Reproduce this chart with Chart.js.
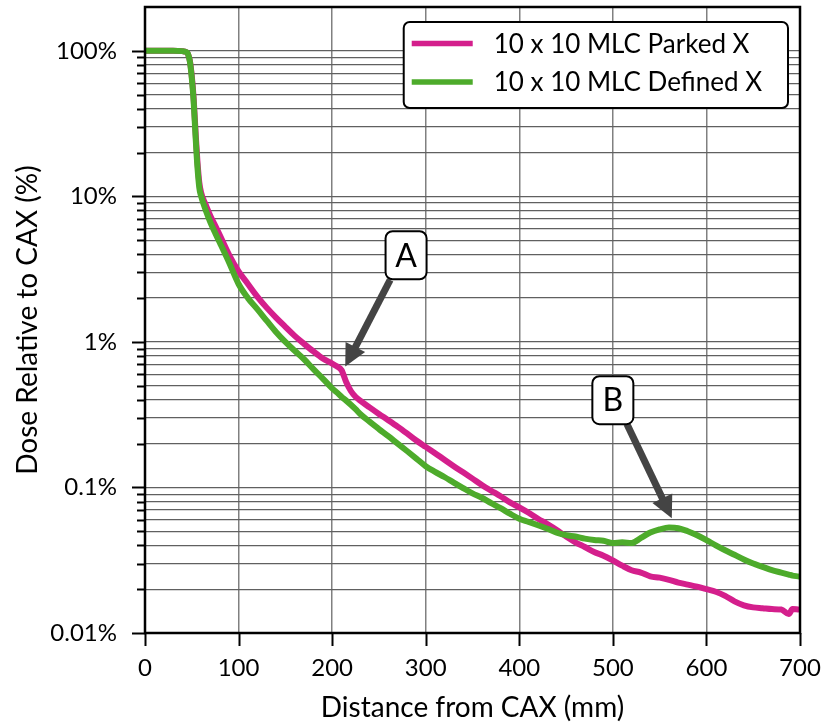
<!DOCTYPE html>
<html>
<head>
<meta charset="utf-8">
<script src="https://cdn.jsdelivr.net/npm/chart.js@4.4.0/dist/chart.umd.min.js"></script>
<style>
html,body{margin:0;padding:0;background:#fff;}
#wrap{width:826px;height:726px;}
</style>
</head>
<body>
<div id="wrap"><canvas id="myChart" width="826" height="726"></canvas></div>
<script>
// distance from CAX (mm)
var distance = [0,10,20,30,40,44,46,48,50,52,54,56,58,60,65,70,75,80,
	90,100,110,120,130,140,150,160,170,180,190,200,205,210,215,220,225,230,
	240,250,260,270,280,290,300,310,320,330,340,350,360,370,380,390,400,410,
	420,430,440,450,460,470,480,490,500,510,520,530,540,550,560,570,580,590,
	600,610,620,630,640,650,660,670,680,688,692,698];

// dose relative to CAX (%)
var parkedX = [100,100,100,100,99.5,98,95,85,67,47,28,17.5,12.5,10.6,8.7,7.3,6.3,5.4,
	3.95,3.05,2.5,2.05,1.72,1.47,1.27,1.1,0.97,0.86,0.77,0.71,0.68,0.64,0.53,0.46,0.42,0.395,
	0.355,0.32,0.29,0.262,0.235,0.21,0.19,0.172,0.155,0.14,0.127,0.115,0.104,0.095,0.087,0.079,0.073,0.067,
	0.061,0.056,0.051,0.046,0.042,0.039,0.036,0.034,0.0315,0.029,0.027,0.026,0.0245,0.024,0.0232,0.0222,0.0215,0.0208,
	0.02,0.0192,0.018,0.0165,0.0155,0.015,0.0148,0.0146,0.0145,0.0135,0.0146,0.0145];

var definedX = [100,100,100,100,99.5,98,95,84,65,45,26,16,11.5,10,8,6.6,5.6,4.8,
	3.5,2.5,2.0,1.68,1.4,1.17,1.0,0.87,0.76,0.65,0.56,0.48,0.45,0.42,0.395,0.37,0.345,0.32,
	0.283,0.252,0.225,0.2,0.178,0.158,0.14,0.128,0.118,0.108,0.099,0.091,0.085,0.078,0.072,0.066,0.061,0.058,
	0.055,0.052,0.049,0.047,0.046,0.0445,0.0435,0.043,0.0415,0.042,0.0415,0.045,0.049,0.0515,0.053,0.0525,0.05,0.047,
	0.0435,0.04,0.037,0.0345,0.032,0.03,0.0285,0.027,0.026,0.0252,0.0248,0.0245];

var seriesNames = ["10 x 10 MLC Parked X", "10 x 10 MLC Defined X"];
var seriesColors = ["#d41f8c", "#4dab2b"];
var yMajor = [0.01, 0.1, 1, 10, 100];

// all y ticks (1..9 per decade) for the grid
var yTicks = [];
yMajor.forEach(function(d){
	for (var m = 1; m <= 9; m++) {
		if (d == 100 && m > 1) break;
		yTicks.push(Number((d*m).toPrecision(3)));
	}
});

// callouts, placed in data units
var callouts = [
	{ text: "A", x: 279, y: 3.94, fromX: 262, fromY: 2.67, toX: 214, toY: 0.677 },
	{ text: "B", x: 500, y: 0.398, fromX: 515, fromY: 0.273, toX: 563, toY: 0.0615 }
];

function pts(vals){
	return distance.map(function(d, i){ return {x: d, y: vals[i]}; });
}

function roundBox(ctx, x, y, w, h, r){
	ctx.beginPath();
	ctx.moveTo(x+r, y);
	ctx.arcTo(x+w, y, x+w, y+h, r);
	ctx.arcTo(x+w, y+h, x, y+h, r);
	ctx.arcTo(x, y+h, x, y, r);
	ctx.arcTo(x, y, x+w, y, r);
	ctx.closePath();
}

// no extra padding from tick labels, the plot box is set by layout
function noPad(s){
	s.paddingTop = 0; s.paddingBottom = 0; s.paddingLeft = 0; s.paddingRight = 0;
}

var extras = {
	id: 'extras',
	afterDatasetsDraw: function(chart){
		var ctx = chart.ctx, a = chart.chartArea, xs = chart.scales.x, ys = chart.scales.y;
		ctx.save();

		// frame
		ctx.strokeStyle = "#000";
		ctx.lineWidth = 2.5;
		ctx.strokeRect(a.left, a.top, a.right - a.left, a.bottom - a.top);

		// tick marks
		ctx.lineWidth = 2;
		ys.ticks.forEach(function(t){
			var py = Math.round(ys.getPixelForValue(t.value)) + 0.5;
			var len = yMajor.indexOf(t.value) >= 0 ? 13 : 8;
			ctx.beginPath(); ctx.moveTo(a.left - len, py); ctx.lineTo(a.left, py); ctx.stroke();
		});
		xs.ticks.forEach(function(t){
			var px = Math.round(xs.getPixelForValue(t.value)) + 0.5;
			ctx.beginPath(); ctx.moveTo(px, a.bottom); ctx.lineTo(px, a.bottom + 13); ctx.stroke();
		});

		// callouts
		callouts.forEach(function(c){
			var sx = xs.getPixelForValue(c.fromX), sy = ys.getPixelForValue(c.fromY);
			var tx = xs.getPixelForValue(c.toX), ty = ys.getPixelForValue(c.toY);
			var ang = Math.atan2(ty - sy, tx - sx);
			var head = 22, half = 11;
			var bx = tx - head*Math.cos(ang), by = ty - head*Math.sin(ang);
			ctx.strokeStyle = "#444"; ctx.fillStyle = "#444";
			ctx.lineWidth = 7; ctx.lineCap = "butt";
			ctx.beginPath(); ctx.moveTo(sx, sy); ctx.lineTo(bx + 2*Math.cos(ang), by + 2*Math.sin(ang)); ctx.stroke();
			ctx.beginPath();
			ctx.moveTo(tx, ty);
			ctx.lineTo(bx + half*Math.sin(ang), by - half*Math.cos(ang));
			ctx.lineTo(bx - half*Math.sin(ang), by + half*Math.cos(ang));
			ctx.closePath(); ctx.fill();

			var cx = xs.getPixelForValue(c.x), cy = ys.getPixelForValue(c.y);
			var w = 41, h = 48;
			roundBox(ctx, cx - w/2, cy - h/2, w, h, 7);
			ctx.fillStyle = "#fff"; ctx.fill();
			ctx.strokeStyle = "#000"; ctx.lineWidth = 2; ctx.stroke();
			ctx.fillStyle = "#000";
			ctx.font = "32px Lato";
			ctx.textAlign = "center"; ctx.textBaseline = "middle";
			ctx.fillText(c.text, cx, cy + 1);
		});

		// legend
		ctx.font = "26px Lato";
		var tw = 0;
		seriesNames.forEach(function(n){ tw = Math.max(tw, ctx.measureText(n).width); });
		var lw = 8 + 61 + 21 + tw + 26, lh = 86;
		var lx = a.right - 12 - lw, ly = a.top + 15;
		roundBox(ctx, lx, ly, lw, lh, 6);
		ctx.fillStyle = "#fff"; ctx.fill();
		ctx.strokeStyle = "#000"; ctx.lineWidth = 2; ctx.stroke();
		ctx.textAlign = "left"; ctx.textBaseline = "middle";
		seriesNames.forEach(function(n, i){
			var ry = ly + 21.5 + i*38.6;
			ctx.strokeStyle = seriesColors[i]; ctx.lineWidth = 5.5;
			ctx.beginPath(); ctx.moveTo(lx + 8, ry); ctx.lineTo(lx + 69, ry); ctx.stroke();
			ctx.fillStyle = "#000";
			ctx.fillText(n, lx + 90, ry + 1);
		});
		ctx.restore();
	}
};

Chart.defaults.font.family = "Lato";
Chart.defaults.color = "#000";

var ctx = document.getElementById("myChart").getContext("2d");
var chart = new Chart(ctx, {
	type: "line",
	data: {
		datasets: [
			{ label: seriesNames[0], data: pts(parkedX), borderColor: seriesColors[0], order: 1 },
			{ label: seriesNames[1], data: pts(definedX), borderColor: seriesColors[1], order: 0 }
		]
	},
	options: {
		responsive: false,
		animation: false,
		events: [],
		layout: { padding: { top: 7, right: 26, left: 0, bottom: 0 } },
		elements: {
			point: { radius: 0 },
			line: { borderWidth: 6, cubicInterpolationMode: "monotone", borderCapStyle: "round", borderJoinStyle: "round" }
		},
		plugins: { legend: { display: false }, tooltip: { enabled: false } },
		scales: {
			x: {
				type: "linear", min: 0, max: 700,
				afterFit: function(s){ s.height = 93; noPad(s); },
				ticks: { stepSize: 100, font: { size: 24 }, padding: 21, color: "#000" },
				grid: { color: "#808080", lineWidth: 1.5, drawTicks: false },
				border: { display: false },
				title: { display: true, text: "Distance from CAX (mm)", font: { size: 28 }, color: "#000", padding: { top: 0, bottom: 1 } }
			},
			y: {
				type: "logarithmic", min: 0.01, max: 200,
				afterFit: function(s){ s.width = 145; noPad(s); },
				afterBuildTicks: function(s){ s.ticks = yTicks.map(function(v){ return { value: v }; }); },
				ticks: {
					autoSkip: false, font: { size: 24 }, padding: 28, color: "#000",
					callback: function(v){ return yMajor.indexOf(v) >= 0 ? v + "%" : ""; }
				},
				grid: { color: "#606060", lineWidth: 1.2, drawTicks: false },
				border: { display: false },
				title: { display: true, text: "Dose Relative to CAX (%)", font: { size: 28 }, color: "#000", padding: { top: 11, bottom: 0 } }
			}
		}
	},
	plugins: [extras]
});
</script>
</body>
</html>
